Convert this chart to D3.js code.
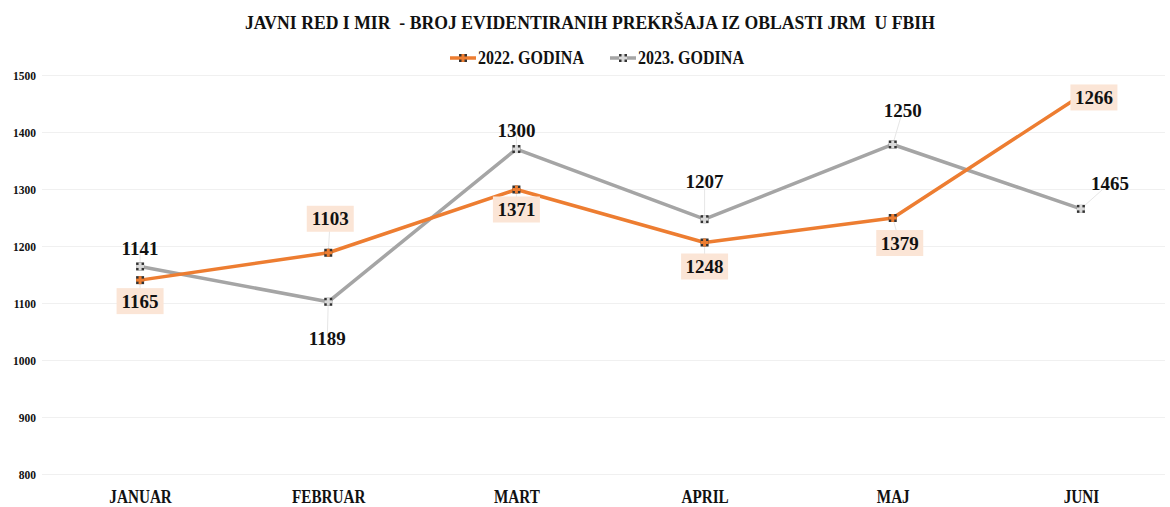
<!DOCTYPE html>
<html><head><meta charset="utf-8">
<script src="https://cdn.jsdelivr.net/npm/d3@7"></script>
<style>body{margin:0;background:#fff}svg{display:block}</style>
</head><body>
<script>
const months = ["JANUAR","FEBRUAR","MART","APRIL","MAJ","JUNI"];
const values2022 = [1141,1189,1300,1207,1250,1465];
const values2023 = [1165,1103,1371,1248,1379,1266];
// labels as printed in the source chart (label sets appear swapped there)
const labels2022 = [1165,1103,1371,1248,1379,1266];
const labels2023 = [1141,1189,1300,1207,1250,1465];
const yTicks = [800,900,1000,1100,1200,1300,1400,1500];
const seriesNames = ["2022. GODINA","2023. GODINA"];
// label offsets (layout only)
const off2022 = [[0,21],[2,-34],[0,20],[0,24],[7,25],[13,2]];
const off2023 = [[0,-18],[-1,37],[0,-19],[0,-38],[10,-34],[29,-26]];

const W=1170,H=507;
const svg=d3.select("body").append("svg").attr("width",W).attr("height",H);
const x=d3.scalePoint().domain(months).range([46,1175]).padding(0.5);
const y=d3.scaleLinear().domain([800,1500]).range([474.5,75.5]);
const colors=["#ED7D31","#A5A5A5"];
const serif="'Liberation Serif','DejaVu Serif',serif";

// title
svg.append("text").attr("x",590).attr("y",29).attr("text-anchor","middle")
 .attr("font-family",serif).attr("font-weight","bold").attr("font-size",19)
 .attr("textLength",690).attr("lengthAdjust","spacingAndGlyphs").attr("fill","#111")
 .style("white-space","pre")
 .text("JAVNI RED I MIR  - BROJ EVIDENTIRANIH PREKRŠAJA IZ OBLASTI JRM  U FBIH");

// grid
svg.append("g").selectAll("line").data(yTicks).join("line")
 .attr("x1",42).attr("x2",1165).attr("y1",d=>y(d)).attr("y2",d=>y(d))
 .attr("stroke","#f0f0f0").attr("stroke-width",1);

// y axis
const ya=svg.append("g").attr("transform","translate(36,0)")
 .call(d3.axisLeft(y).tickValues(yTicks).tickFormat(d3.format("d")).tickSize(0).tickPadding(0));
ya.select(".domain").remove();
ya.selectAll("text").attr("font-family",serif).attr("font-weight","bold").attr("font-size",11.5).attr("fill","#111");

// x axis
const xa=svg.append("g").attr("transform","translate(0,489)")
 .call(d3.axisBottom(x).tickSize(0).tickPadding(0));
xa.select(".domain").remove();
xa.selectAll(".tick text").attr("font-family",serif).attr("font-weight","bold").attr("font-size",19)
 .attr("fill","#111").attr("dy","0.72em");
xa.selectAll(".tick text").each(function(){
  const el=this, w=el.getComputedTextLength();
  d3.select(el).attr("textLength",w*0.8).attr("lengthAdjust","spacingAndGlyphs");
});

const series=[
 {vals:values2022,labels:labels2022,off:off2022,color:colors[0],box:true},
 {vals:values2023,labels:labels2023,off:off2023,color:colors[1],box:false}
];

// leader lines
series.forEach(s=>{
  svg.append("g").selectAll("line").data(months).join("line")
   .attr("x1",(m,i)=>x(m)).attr("y1",(m,i)=>y(s.vals[i]))
   .attr("x2",(m,i)=>x(m)+s.off[i][0]).attr("y2",(m,i)=>y(s.vals[i])+s.off[i][1])
   .attr("stroke","#e6e6e6").attr("stroke-width",1);
});

const line=d3.line().x((d,i)=>x(months[i])).y(d=>y(d));
function marker(g,cx,cy,color){
  g.append("rect").attr("x",cx-4).attr("y",cy-4).attr("width",8).attr("height",8).attr("fill","#333");
  g.append("rect").attr("x",cx-1.5).attr("y",cy-4).attr("width",3).attr("height",8).attr("fill",color);
  g.append("rect").attr("x",cx-4).attr("y",cy-1.5).attr("width",8).attr("height",3).attr("fill",color);
}
[series[1],series[0]].forEach(s=>{
  svg.append("path").datum(s.vals).attr("d",line).attr("fill","none")
   .attr("stroke",s.color).attr("stroke-width",3.5).attr("stroke-linejoin","round");
  const mg=svg.append("g");
  s.vals.forEach((v,i)=>marker(mg,x(months[i]),y(v),s.color===colors[1]?"#d9d9d9":s.color));
});

// labels
series.forEach(s=>{
  const g=svg.append("g");
  s.vals.forEach((v,i)=>{
    const cx=x(months[i])+s.off[i][0], cy=y(v)+s.off[i][1];
    if(s.box){
      g.append("rect").attr("x",cx-23.5).attr("y",cy-13).attr("width",47).attr("height",26).attr("fill","#FBE5D6");
    }
    g.append("text").attr("x",cx).attr("y",cy).attr("dy","0.35em").attr("text-anchor","middle")
     .attr("font-family",serif).attr("font-weight","bold").attr("font-size",19).attr("fill","#111")
     .text(s.labels[i]);
  });
});

// legend
const lg=svg.append("g");
const legX=[450,610];
seriesNames.forEach((n,i)=>{
  lg.append("line").attr("x1",legX[i]).attr("x2",legX[i]+26).attr("y1",58).attr("y2",58)
   .attr("stroke",colors[i]).attr("stroke-width",3.5);
  marker(lg,legX[i]+13,58,i===1?"#d9d9d9":colors[i]);
  lg.append("text").attr("x",legX[i]+28).attr("y",58).attr("dy","0.35em")
   .attr("font-family",serif).attr("font-weight","bold").attr("font-size",18).attr("fill","#111")
   .attr("textLength",106).attr("lengthAdjust","spacingAndGlyphs").text(n);
});
</script>
</body></html>
